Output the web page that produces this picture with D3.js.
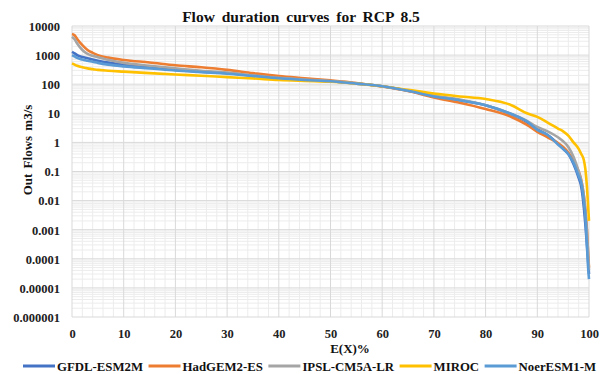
<!DOCTYPE html>
<html>
<head>
<meta charset="utf-8">
<script src="https://cdn.jsdelivr.net/npm/d3@7"></script>
<style>
  body { margin: 0; background: #fff; }
  text { font-family: "Liberation Serif", "Times New Roman", serif; font-weight: bold; fill: #111; }
</style>
</head>
<body>
<div id="chart"></div>
<script>
// Flow duration curves, RCP 8.5 — exceedance % vs outflow (log scale)

const seriesNames = ["GFDL-ESM2M", "HadGEM2-ES", "IPSL-CM5A-LR", "MIROC", "NoerESM1-M"];
const seriesColors = ["#4472C4", "#ED7D31", "#A5A5A5", "#FFC000", "#5B9BD5"];

// exceedance probability E(X)%
const exceedance = [0, 0.5, 1, 2, 3, 4, 5, 7, 10, 15, 20, 25, 30, 35, 40, 45, 50, 55, 60, 65,
  70, 75, 80, 85, 88, 90, 92, 94, 95, 96, 97, 98, 98.5, 99, 99.3, 99.6, 99.8, 100];

const gfdl = [1300, 1150, 1000, 860, 780, 700, 640, 550, 470, 380, 310, 270, 240, 195, 160, 140, 127, 105, 85, 60,
  39, 28, 19, 9, 5, 2.8, 1.8, 0.9, 0.6, 0.4, 0.18, 0.06, 0.03, 0.006, 0.0015, 0.0003, 0.0001, 0.00003];
const hadgem = [5300, 4800, 3600, 2200, 1500, 1200, 1000, 820, 680, 560, 450, 380, 310, 240, 190, 160, 135, 110, 83, 58,
  35, 23, 14, 7.5, 4, 2.3, 1.5, 0.95, 0.7, 0.45, 0.24, 0.1, 0.05, 0.015, 0.005, 0.001, 0.0002, 0.00005];
const ipsl = [4300, 3500, 2500, 1500, 1100, 950, 850, 690, 540, 430, 350, 290, 250, 200, 165, 145, 128, 108, 85, 61,
  40, 30, 19, 9.5, 5.5, 3.4, 2.4, 1.5, 1.1, 0.7, 0.32, 0.1, 0.05, 0.015, 0.004, 0.0008, 0.0002, 0.00004];
const miroc = [520, 470, 430, 380, 350, 330, 310, 290, 270, 240, 215, 195, 175, 158, 140, 130, 122, 105, 85, 64,
  48, 38, 31, 19, 10, 7.5, 4.8, 3, 2.4, 1.7, 1.0, 0.6, 0.4, 0.25, 0.12, 0.03, 0.008, 0.002];
const noresm = [1000, 900, 800, 700, 640, 590, 540, 470, 410, 350, 295, 260, 230, 192, 160, 140, 127, 105, 85, 60,
  38, 28, 19, 9.5, 5.3, 2.7, 1.8, 0.85, 0.6, 0.4, 0.2, 0.07, 0.04, 0.01, 0.003, 0.0003, 0.00006, 0.00002];

const seriesValues = [gfdl, hadgem, ipsl, miroc, noresm];

const xTicks = [0, 10, 20, 30, 40, 50, 60, 70, 80, 90, 100];
const yTicks = [10000, 1000, 100, 10, 1, 0.1, 0.01, 0.001, 0.0001, 0.00001, 0.000001];
const yTickLabels = ["10000", "1000", "100", "10", "1", "0.1", "0.01", "0.001", "0.0001", "0.00001", "0.000001"];

const width = 603, height = 374;
const margin = { top: 26, right: 14, bottom: 57, left: 72 };

const svg = d3.select("#chart").append("svg")
  .attr("width", width)
  .attr("height", height);

const x = d3.scaleLinear().domain([0, 100]).range([margin.left, width - margin.right]);
const y = d3.scaleLog().domain([0.000001, 10000]).range([height - margin.bottom, margin.top]);

// minor grid
const minorX = d3.range(0, 101, 2).filter(v => v % 10 !== 0);
svg.append("g").selectAll("line").data(minorX).join("line")
  .attr("x1", d => x(d)).attr("x2", d => x(d))
  .attr("y1", y.range()[0]).attr("y2", y.range()[1])
  .attr("stroke", "#ececec").attr("stroke-width", 1);

const minorY = [];
yTicks.slice(1).forEach(base => {
  for (let k = 2; k <= 9; k++) minorY.push(base * k);
});
svg.append("g").selectAll("line").data(minorY).join("line")
  .attr("x1", x.range()[0]).attr("x2", x.range()[1])
  .attr("y1", d => y(d)).attr("y2", d => y(d))
  .attr("stroke", "#ececec").attr("stroke-width", 1);

// major grid
svg.append("g").selectAll("line").data(xTicks).join("line")
  .attr("x1", d => x(d)).attr("x2", d => x(d))
  .attr("y1", y.range()[0]).attr("y2", y.range()[1])
  .attr("stroke", "#d9d9d9").attr("stroke-width", 1);

svg.append("g").selectAll("line").data(yTicks).join("line")
  .attr("x1", x.range()[0]).attr("x2", x.range()[1])
  .attr("y1", d => y(d)).attr("y2", d => y(d))
  .attr("stroke", "#d9d9d9").attr("stroke-width", 1);

// axes (labels only, Excel style)
const yAxis = d3.axisLeft(y).tickValues(yTicks).tickFormat((d, i) => yTickLabels[i]).tickSize(0).tickPadding(12);
svg.append("g")
  .attr("transform", `translate(${margin.left},0)`)
  .call(yAxis)
  .call(g => g.select(".domain").remove())
  .selectAll("text")
  .attr("dy", "0.35em")
  .style("font-family", "Liberation Serif, serif")
  .style("font-weight", "bold")
  .style("font-size", "12.5px")
  .style("fill", "#222");

const xAxis = d3.axisBottom(x).tickValues(xTicks).tickFormat(d3.format("d")).tickSize(0).tickPadding(12);
svg.append("g")
  .attr("transform", `translate(0,${height - margin.bottom})`)
  .call(xAxis)
  .call(g => g.select(".domain").remove())
  .selectAll("text")
  .style("font-family", "Liberation Serif, serif")
  .style("font-weight", "bold")
  .style("font-size", "12.5px")
  .style("fill", "#222");

// curves
const line = d3.line()
  .x(d => x(d[0]))
  .y(d => y(d[1]))
  .curve(d3.curveMonotoneX);

seriesValues.forEach((vals, i) => {
  svg.append("path")
    .datum(exceedance.map((e, j) => [e, vals[j]]))
    .attr("fill", "none")
    .attr("stroke", seriesColors[i])
    .attr("stroke-width", 2.6)
    .attr("stroke-linejoin", "round")
    .attr("d", line);
});

// titles
svg.append("text")
  .attr("x", 301).attr("y", 22)
  .attr("text-anchor", "middle")
  .style("font-size", "15.5px")
  .style("word-spacing", "3px")
  .text("Flow duration curves for RCP 8.5");

svg.append("text")
  .attr("x", 350).attr("y", 353)
  .attr("text-anchor", "middle")
  .style("font-size", "13px")
  .text("E(X)%");

svg.append("text")
  .attr("transform", `translate(32,150) rotate(-90)`)
  .attr("text-anchor", "middle")
  .style("font-size", "13px")
  .style("word-spacing", "2px")
  .text("Out Flows m3/s");

// legend
const legend = svg.append("g").attr("transform", `translate(23,366)`);
let lx = 0;
seriesNames.forEach((name, i) => {
  legend.append("line")
    .attr("x1", lx).attr("x2", lx + 32)
    .attr("y1", 0).attr("y2", 0)
    .attr("stroke", seriesColors[i])
    .attr("stroke-width", 3);
  const t = legend.append("text")
    .attr("x", lx + 34).attr("y", 5)
    .style("font-size", "12.8px")
    .text(name);
  lx += 34 + t.node().getComputedTextLength() + 5.5;
});
</script>
</body>
</html>
